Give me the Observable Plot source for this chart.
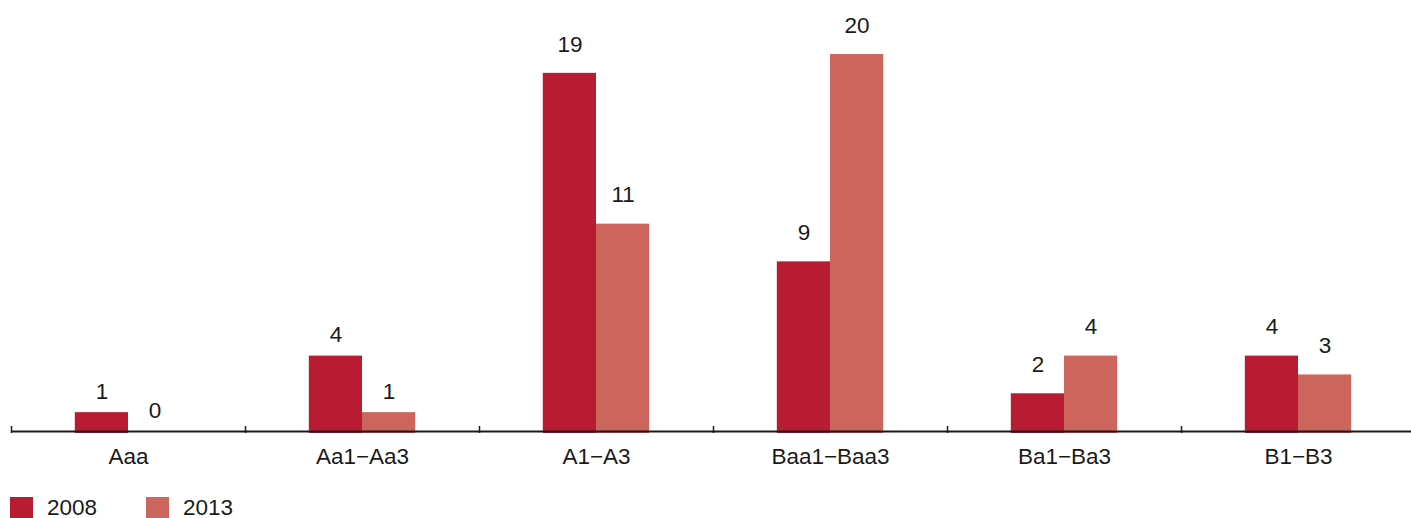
<!DOCTYPE html>
<html>
<head>
<meta charset="utf-8">
<script src="https://cdn.jsdelivr.net/npm/d3@7"></script>
<script src="https://cdn.jsdelivr.net/npm/@observablehq/plot@0.6"></script>
<style>
  body { margin: 0; background: #fff; font-family: "Liberation Sans", Arial, Helvetica, sans-serif; color: #1a1a1a; overflow: hidden; }
  #chart svg { max-width: none !important; display: block; }
  #legend { display: flex; align-items: center; margin: 17px 0 0 10px; font-size: 22.5px; line-height: 20px; }
  .item { display: flex; align-items: center; margin-right: 49px; }
  .swatch { width: 23px; height: 21px; margin-right: 14px; }
</style>
</head>
<body>
<div id="chart"></div>
<div id="legend"></div>
<script>
// Rating buckets and counts per year
const categories = ["Aaa", "Aa1\u2212Aa3", "A1\u2212A3", "Baa1\u2212Baa3", "Ba1\u2212Ba3", "B1\u2212B3"];
const years = ["2008", "2013"];
const values2008 = [1, 4, 19, 9, 2, 4];
const values2013 = [0, 1, 11, 20, 4, 3];
const colors = ["#b71c32", "#cc665c"];

const data = categories.flatMap((c, i) => [
  {category: c, year: years[0], value: values2008[i]},
  {category: c, year: years[1], value: values2013[i]}
]);

const width = 1415, marginLeft = 11, marginRight = 0;
const step = (width - marginLeft - marginRight) / categories.length;
const fontSize = 22.5;

// the two leftmost groups carry their labels a little closer to the bars
const near = new Set(categories.slice(0, 2));

const chart = Plot.plot({
  width,
  height: 480,
  marginLeft,
  marginRight,
  marginTop: 54,
  marginBottom: 49,
  style: {fontFamily: "'Liberation Sans', Arial, Helvetica, sans-serif", fontSize: fontSize + "px", color: "#1a1a1a", background: "#fff"},
  fx: {domain: categories, padding: 0, label: null},
  x: {domain: years, paddingInner: 0, paddingOuter: 1.2, axis: null, round: false},
  y: {domain: [0, 20], axis: null},
  color: {domain: years, range: colors},
  marks: [
    Plot.barY(data.filter(d => d.value > 0), {fx: "category", x: "year", y: "value", fill: "year", insetBottom: -2}),
    Plot.ruleY([0], {stroke: "#1a1a1a", strokeWidth: 1.8}),
    // group separators
    Plot.axisFx({anchor: "bottom", tickSize: 7, dy: -5, dx: -step / 2, strokeWidth: 1.5, tickFormat: () => "", label: null}),
    Plot.axisFx({anchor: "bottom", tickSize: 0, tickPadding: 17, label: null, fontSize}),
    Plot.text(data.filter(d => near.has(d.category)), {fx: "category", x: "year", y: "value", text: d => String(d.value), dy: -21, fontSize, fill: "#1a1a1a"}),
    Plot.text(data.filter(d => !near.has(d.category)), {fx: "category", x: "year", y: "value", text: d => String(d.value), dy: -29, fontSize, fill: "#1a1a1a"})
  ]
});
chart.style.maxWidth = "none";
document.getElementById("chart").append(chart);

const legend = document.getElementById("legend");
years.forEach((y, i) => {
  const item = document.createElement("div");
  item.className = "item";
  const sw = document.createElement("span");
  sw.className = "swatch";
  sw.style.background = colors[i];
  const label = document.createElement("span");
  label.textContent = y;
  item.append(sw, label);
  legend.append(item);
});
</script>
</body>
</html>
